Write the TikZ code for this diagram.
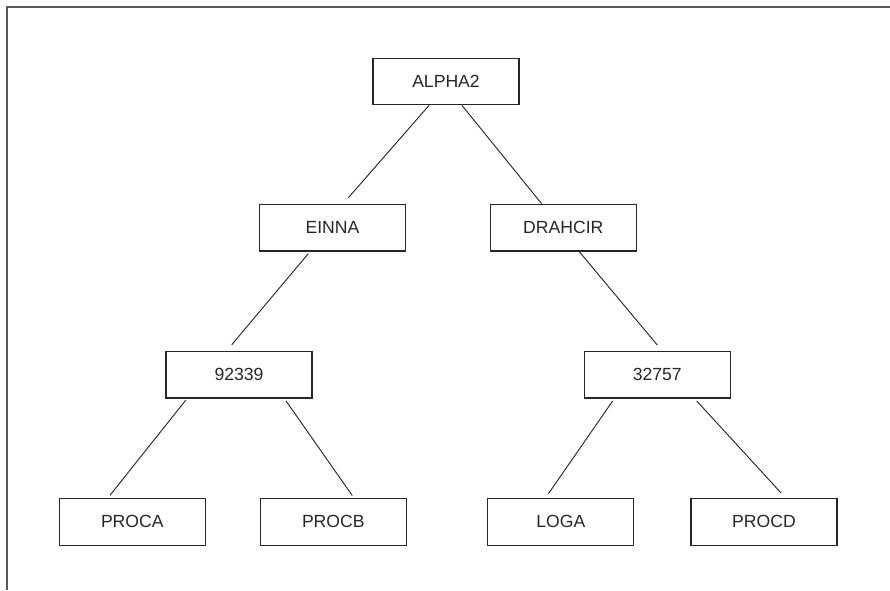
\documentclass[tikz,border=0pt]{standalone}
\usepackage{fontspec}
\setmainfont{Liberation Sans}
\usetikzlibrary{calc}
\begin{document}
\begin{tikzpicture}[x=0.75pt,y=-0.75pt,
  box/.style={draw=black!85,line width=0.9pt,rectangle,minimum width=109.5pt,minimum height=35pt,inner sep=0pt,font=\fontsize{13.2pt}{15pt}\selectfont,text=black!85},
  link/.style={draw=black!85,line width=0.7pt},
  frame/.style={draw=black!65,line width=1.4pt}]
\useasboundingbox (0,0) rectangle (890,590);
\coordinate (fo) at (7,7);
\coordinate (fr) at (890,7);
\coordinate (fb) at (7,590);
\draw[frame] (fr) -- (fo) -- (fb);
\node[box] (alpha) at (446,81.5) {ALPHA2};
\node[box] (einna) at (332.5,227.7) {EINNA};
\node[box] (drahcir) at (563.3,227.7) {DRAHCIR};
\node[box] (n92339) at (239,374.7) {92339};
\node[box] (n32757) at (657.3,374.7) {32757};
\node[box] (proca) at (132.3,521.8) {PROCA};
\node[box] (procb) at (333.3,521.8) {PROCB};
\node[box] (loga) at (560.8,521.8) {LOGA};
\node[box] (procd) at (764,521.8) {PROCD};
\draw[link] ($(alpha.south)+(-17,0)$) -- ($(einna.north)+(15.8,-6)$);
\draw[link] ($(alpha.south)+(16,0)$) -- ($(drahcir.north)+(-21.6,0)$);
\draw[link] ($(einna.south)+(-24.2,2)$) -- ($(n92339.north)+(-7.3,-6)$);
\draw[link] ($(drahcir.south)+(16,0)$) -- ($(n32757.north)+(0,-5.7)$);
\draw[link] ($(n92339.south)+(-53.3,1.6)$) -- ($(proca.north)+(-22.3,-2.6)$);
\draw[link] ($(n92339.south)+(47,2.3)$) -- ($(procb.north)+(19,-2.3)$);
\draw[link] ($(n32757.south)+(-44.6,2.3)$) -- ($(loga.north)+(-12.5,-4)$);
\draw[link] ($(n32757.south)+(39.4,2.3)$) -- ($(procd.north)+(17,-5)$);
\end{tikzpicture}
\end{document}
